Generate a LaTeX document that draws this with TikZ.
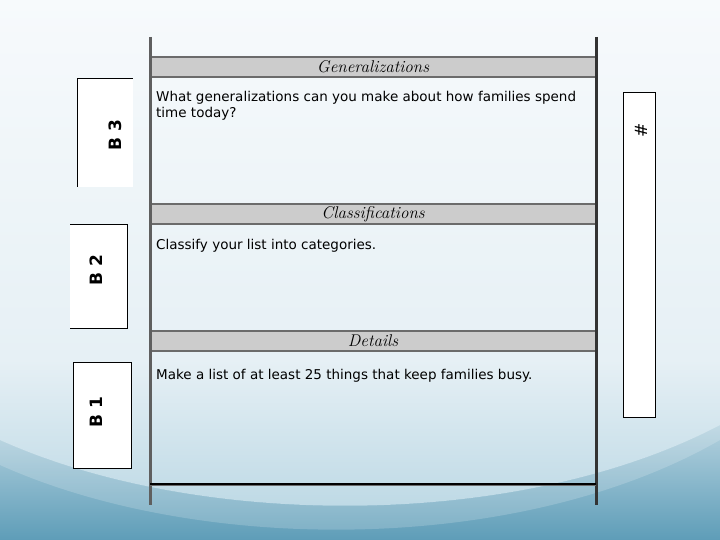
\documentclass[tikz,border=0pt]{standalone}
\usepackage{fontspec}
\setsansfont{DejaVu Sans}
\newfontfamily\bodyfont{DejaVu Sans}
\definecolor{bgA}{HTML}{F7FAFC}
\definecolor{bgB}{HTML}{E6F0F5}
\definecolor{bgC}{HTML}{5E9DB8}
\definecolor{domeB}{HTML}{B8D6E3}
\definecolor{barfill}{HTML}{CCCCCC}
\definecolor{barline}{HTML}{6B6B6B}
\definecolor{railgray}{HTML}{5F5F5F}
\begin{document}
\begin{tikzpicture}[x=1pt,y=-1pt,
  headbar/.style={fill=barfill,draw=barline,line width=2.5pt,minimum width=446pt,minimum height=20pt,inner sep=0pt,
    font=\fontsize{17}{17}\selectfont\itshape},
  bodytext/.style={anchor=north west,align=left,inner sep=0pt,font=\bodyfont\fontsize{13.5}{16}\selectfont},
  rail/.style={draw=railgray,line width=3pt},
  blabel/.style={rotate=90,font=\sffamily\bfseries\fontsize{17}{17}\selectfont,inner sep=0pt},
  sidebox/.style={fill=white,draw=black,line width=1pt}]
\useasboundingbox (0,0) rectangle (720,540);
% background
\shade[top color=bgA,bottom color=bgB] (0,0) rectangle (720,360);
\shade[top color=bgB,bottom color=bgC] (0,359.5) rectangle (720,540);
\shade[top color=bgB,bottom color=domeB] (0,360) -- (720,360) -- (720,425)
  .. controls (520,530) and (200,530) .. (0,440) -- cycle;
\fill[white,opacity=0.18] (0,440) .. controls (200,530) and (520,530) .. (720,425)
  -- (720,440) .. controls (520,555) and (200,555) .. (0,465) -- cycle;
% side boxes
\fill[white] (77,79) rectangle (133,187);
\draw[black,line width=1pt] (77,187) -- (77,79) -- (133,79);
\node[blabel] (b3) at (115,135) {B 3};
\fill[white] (70,225) rectangle (127,328);
\draw[black,line width=1pt] (70,225) -- (127,225) -- (127,328) -- (70,328);
\node[blabel] (b2) at (96,270) {B 2};
\draw[sidebox] (73,362) rectangle (131,468);
\node[blabel] (b1) at (96,412) {B 1};
\draw[sidebox] (623,93) rectangle (655,417);
\node[rotate=90,font=\sffamily\fontsize{17}{17}\selectfont,inner sep=0pt] (hash) at (641,130) {\#};
% rails
\coordinate (railTL) at (150,37);
\coordinate (railBL) at (150,505);
\coordinate (railTR) at (596,37);
\coordinate (railBR) at (596,505);
\coordinate (botL) at (150,484);
\coordinate (botR) at (596,484);
% heading bars
\node[headbar] (gen) at (373,67) {Generalizations};
\node[headbar] (cls) at (373,214) {Classifications};
\node[headbar] (det) at (373,341) {Details};
\draw[rail] (railTL) -- (railBL);
\draw[rail,draw=black!80] (railTR) -- (railBR);
\draw[black,line width=2pt] (botL) -- (botR);
\draw[barline,line width=0.8pt] ([yshift=-1.5pt]botL) -- ([yshift=-1.5pt]botR);
% body texts
\node[bodytext] (q3) at (156,91) {What generalizations can you make about how families spend\\time today?};
\node[bodytext] (q2) at (156,239) {Classify your list into categories.};
\node[bodytext] (q1) at (156,369) {Make a list of at least 25 things that keep families busy.};
\end{tikzpicture}
\end{document}
